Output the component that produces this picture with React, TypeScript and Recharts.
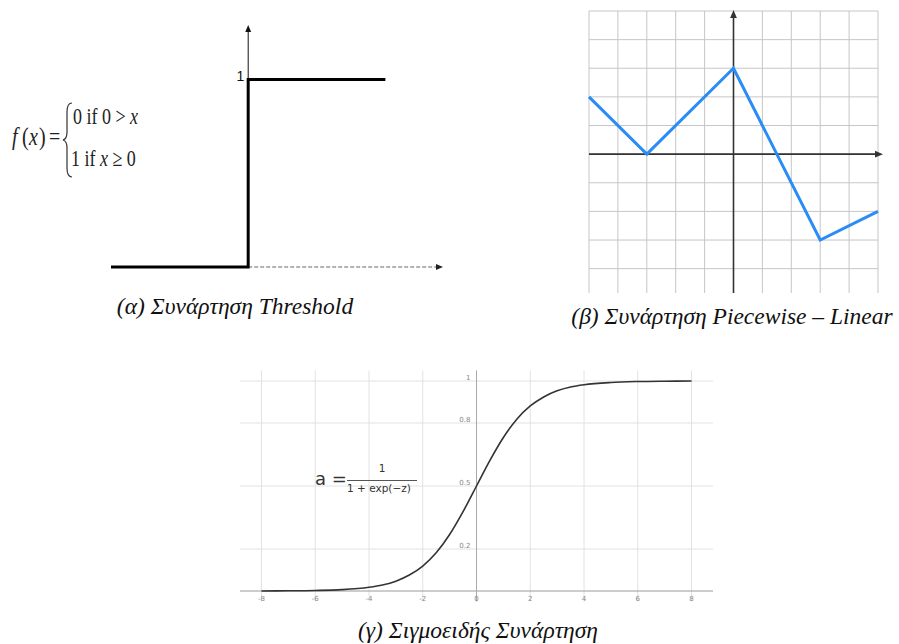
import { LineChart, Line, XAxis, YAxis, ReferenceLine, ReferenceDot } from 'recharts'

// (α) step function
const thresholdX = [-1, 0, 1]
const thresholdY = [0, 1, 1]

// (β) piecewise linear
const piecewiseX = [-5, -3, 0, 3, 5]
const piecewiseY = [2, 0, 3, -3, -2]
const squareXTicks = [-5, -4, -3, -2, -1, 0, 1, 2, 3, 4, 5]
const squareYTicks = [-4, -3, -2, -1, 0, 1, 2, 3, 4, 5]

const sigmoidZ = [-8, -7, -6, -5, -4, -3.5, -3, -2.5, -2, -1.5, -1, -0.5, 0, 0.5, 1, 1.5, 2, 2.5, 3, 3.5, 4, 5, 6, 7, 8]
const sigmoidA = [0.0003, 0.0009, 0.0025, 0.0067, 0.018, 0.029, 0.047, 0.076, 0.119, 0.182, 0.269, 0.378, 0.5, 0.622, 0.731, 0.818, 0.881, 0.924, 0.953, 0.971, 0.982, 0.993, 0.9975, 0.9991, 0.9997]
const sigmoidXTicks = [-8, -6, -4, -2, 0, 2, 4, 6, 8]
const sigmoidYTicks = [0.2, 0.5, 0.8, 1]

const thresholdData = thresholdX.map((x, i) => ({ x, y: thresholdY[i] }))
const piecewiseData = piecewiseX.map((x, i) => ({ x, y: piecewiseY[i] }))
const sigmoidData = sigmoidZ.map((x, i) => ({ x, y: sigmoidA[i] }))

const serif = '"Liberation Serif", "Times New Roman", serif'
const sans = '"DejaVu Sans", sans-serif'

type ArrowOpts = { stroke: string; width: number; dash?: string; head: number; extra?: number; headColor?: string }

// line with a filled arrow head at its end point
function arrowLine(o: ArrowOpts) {
  return (p: any) => {
    const { x1, y1, x2, y2 } = p
    const ang = Math.atan2(y2 - y1, x2 - x1)
    const cos = Math.cos(ang)
    const sin = Math.sin(ang)
    const tx = x2 + cos * (o.extra ?? 0)
    const ty = y2 + sin * (o.extra ?? 0)
    const bx = tx - cos * o.head
    const by = ty - sin * o.head
    const hw = o.head * 0.42
    const px = -sin * hw
    const py = cos * hw
    return (
      <g>
        <line x1={x1} y1={y1} x2={bx} y2={by} stroke={o.stroke} strokeWidth={o.width} strokeDasharray={o.dash} />
        <polygon points={`${tx},${ty} ${bx + px},${by + py} ${bx - px},${by - py}`} fill={o.headColor ?? o.stroke} />
      </g>
    )
  }
}

function Caption({ center, top, text }: { center: number; top: number; text: string }) {
  return (
    <div
      style={{
        position: 'absolute',
        left: center - 200,
        width: 400,
        textAlign: 'center',
        top,
        fontFamily: serif,
        fontStyle: 'italic',
        fontSize: 23.5,
        lineHeight: '24px',
        color: '#111',
        whiteSpace: 'nowrap',
      }}
    >
      {text}
    </div>
  )
}

// tall, narrow Times-like glyphs for the piecewise definition
function Tall({ x, y, size, italic, children }: { x: number; y: number; size: number; italic?: boolean; children: any }) {
  return (
    <text transform={`translate(${x},${y}) scale(1,1.3)`} fontFamily={serif} fontSize={size} fontStyle={italic ? 'italic' : 'normal'} fill="#222">
      {children}
    </text>
  )
}

function ThresholdChart() {
  return (
    <div style={{ position: 'absolute', left: 0, top: 0 }}>
      <LineChart width={450} height={290} data={thresholdData} margin={{ top: 25, right: 7, bottom: 23, left: 111 }}>
        <XAxis dataKey="x" type="number" domain={[-1, 1.42]} hide height={0} />
        <YAxis type="number" domain={[0, 1.29]} hide width={0} />
        <ReferenceLine
          segment={[{ x: 0, y: 0 }, { x: 1.42, y: 0 }]}
          shape={arrowLine({ stroke: '#666', width: 1, dash: '4 2', head: 7, headColor: '#222' })}
        />
        <ReferenceLine
          segment={[{ x: 0, y: 0 }, { x: 0, y: 1.29 }]}
          shape={arrowLine({ stroke: '#111', width: 1, head: 7 })}
        />
        <ReferenceDot
          x={0}
          y={1}
          r={0}
          shape={(p: any) => (
            <text x={p.cx - 4} y={p.cy + 2} textAnchor="end" fontSize={14} fontFamily="Liberation Sans, Arial, sans-serif" fill="#111">
              1
            </text>
          )}
        />
        <Line dataKey="y" type="stepAfter" stroke="#000" strokeWidth={3} dot={false} isAnimationActive={false} />
      </LineChart>
      <svg width={150} height={200} style={{ position: 'absolute', left: 0, top: 0 }}>
        <Tall x={12} y={145} size={20} italic>f</Tall>
        <Tall x={22} y={145} size={20}>(</Tall>
        <Tall x={29} y={145} size={20} italic>x</Tall>
        <Tall x={39} y={145} size={20}>)</Tall>
        <Tall x={49} y={145} size={20}>=</Tall>
        <path d="M72 103 Q67 103 67 112 L67 132 Q67 139 63 140 Q67 141 67 148 L67 168 Q67 177 72 177" fill="none" stroke="#333" strokeWidth={1.2} />
        <Tall x={73} y={124} size={18}>
          0 if 0 &gt; <tspan fontStyle="italic">x</tspan>
        </Tall>
        <Tall x={71} y={166} size={18}>
          1 if <tspan fontStyle="italic">x</tspan> ≥ 0
        </Tall>
      </svg>
    </div>
  )
}

function PiecewiseChart() {
  return (
    <div style={{ position: 'absolute', left: 580, top: 0 }}>
      <LineChart width={319} height={300} data={piecewiseData} margin={{ top: 11, right: 21, bottom: 7, left: 9 }}>
        <XAxis dataKey="x" type="number" domain={[-5, 5]} hide height={0} />
        <YAxis type="number" domain={[-4.85, 5]} hide width={0} />
        {squareXTicks.map((v) => (
          <ReferenceLine key={`vx${v}`} x={v} stroke="#c6c6c6" strokeWidth={1} />
        ))}
        {squareYTicks.map((v) => (
          <ReferenceLine key={`hy${v}`} y={v} stroke="#c6c6c6" strokeWidth={1} />
        ))}
        <ReferenceLine
          segment={[{ x: -5, y: 0 }, { x: 5, y: 0 }]}
          shape={arrowLine({ stroke: '#333', width: 1.6, head: 8, extra: 5 })}
        />
        <ReferenceLine
          segment={[{ x: 0, y: -4.85 }, { x: 0, y: 5 }]}
          shape={arrowLine({ stroke: '#333', width: 1.6, head: 8, extra: 1 })}
        />
        <Line dataKey="y" type="linear" stroke="#2a8cf5" strokeWidth={3} dot={false} isAnimationActive={false} />
      </LineChart>
    </div>
  )
}

function SigmoidChart() {
  return (
    <div style={{ position: 'absolute', left: 230, top: 360 }}>
      <LineChart width={500} height={255} data={sigmoidData} margin={{ top: 10.5, right: 17, bottom: 13.5, left: 10 }}>
        <XAxis dataKey="x" type="number" domain={[-8.8, 8.8]} hide height={0} />
        <YAxis type="number" domain={[-0.05, 1.05]} hide width={0} />
        {sigmoidXTicks.map((v) => (
          <ReferenceLine key={`gx${v}`} x={v} stroke="#e2e2e2" strokeWidth={1} />
        ))}
        {sigmoidYTicks.map((v) => (
          <ReferenceLine key={`gy${v}`} y={v} stroke="#e2e2e2" strokeWidth={1} />
        ))}
        <ReferenceLine y={0} stroke="#9a9a9a" strokeWidth={1} />
        <ReferenceLine x={0} stroke="#aaaaaa" strokeWidth={1} />
        {sigmoidXTicks.map((v) => (
          <ReferenceDot
            key={`tx${v}`}
            x={v}
            y={0}
            r={0}
            shape={(p: any) => (
              <text x={p.cx} y={p.cy + 9.5} textAnchor="middle" fontSize={7} fontFamily={sans} fill="#888">
                {v}
              </text>
            )}
          />
        ))}
        {sigmoidYTicks.map((v) => (
          <ReferenceDot
            key={`ty${v}`}
            x={0}
            y={v}
            r={0}
            shape={(p: any) => (
              <text x={p.cx - 6} y={p.cy - 1.5} textAnchor="end" fontSize={7} fontFamily={sans} fill="#888">
                {v}
              </text>
            )}
          />
        ))}
        <Line dataKey="y" type="monotone" stroke="#333" strokeWidth={1.6} dot={false} isAnimationActive={false} />
      </LineChart>
      <div style={{ position: 'absolute', left: 85, top: 108, fontFamily: sans, color: '#333', whiteSpace: 'nowrap' }}>
        <span style={{ position: 'absolute', left: 0, top: 0, fontSize: 18 }}>a =</span>
        <span style={{ position: 'absolute', left: 32, width: 70, textAlign: 'center', top: -6, fontSize: 10.5 }}>1</span>
        <div style={{ position: 'absolute', left: 32, top: 12, width: 70, height: 0, borderTop: '1px solid #555' }} />
        <span style={{ position: 'absolute', left: 32, top: 14, fontSize: 10.5 }}>1 + exp(−z)</span>
      </div>
    </div>
  )
}

export default function App() {
  return (
    <div style={{ position: 'absolute', left: 0, top: 0, width: 899, height: 644, background: '#fff', overflow: 'hidden' }}>
      <ThresholdChart />
      <PiecewiseChart />
      <SigmoidChart />
      <Caption center={235} top={294} text="(α) Συνάρτηση Threshold" />
      <Caption center={732} top={304} text="(β) Συνάρτηση Piecewise – Linear" />
      <Caption center={478} top={618} text="(γ) Σιγμοειδής Συνάρτηση" />
    </div>
  )
}
